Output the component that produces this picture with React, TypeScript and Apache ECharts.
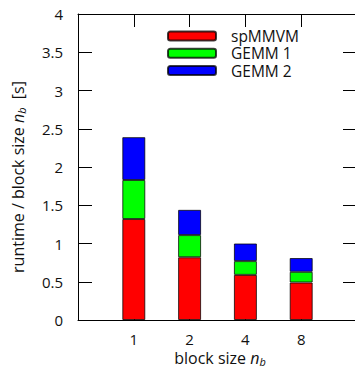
import React, { useEffect, useRef } from "react";
import * as echarts from "echarts";

const categories = ["1", "2", "4", "8"];
const spmmvm = [1.32, 0.82, 0.59, 0.49];
const gemm1 = [0.51, 0.29, 0.18, 0.14];
const gemm2 = [0.56, 0.33, 0.23, 0.18];
const seriesNames = ["spMMVM", "GEMM 1", "GEMM 2"];
const seriesColors = ["#ff0000", "#00ff00", "#0000ff"];
const seriesValues = [spmmvm, gemm1, gemm2];

// x range runs one slot past each end (gnuplot-style xrange [0:5])
const axisSlots = ["", ...categories, ""];

const FONT = "'Open Sans', sans-serif";
const CHART_W = 372;
const CHART_H = 370;

export default function App() {
  const ref = useRef<HTMLDivElement>(null);
  useEffect(() => {
    if (!ref.current) return;
    const chart = echarts.init(ref.current, undefined, { renderer: "svg" });
    const axisLine = { show: true, onZero: false, lineStyle: { color: "#000", width: 1 } };
    const tick = (len: number) => ({ show: true, inside: true, length: len, lineStyle: { color: "#000" } });
    const sub = { fontFamily: FONT, fontSize: 11, fontStyle: "italic", fill: "#111", padding: [7, 0, 0, 0] };
    chart.setOption({
      animation: false,
      textStyle: { fontFamily: FONT },
      grid: { left: 78, top: 14, right: CHART_W - 357, bottom: CHART_H - 320, containLabel: false },
      legend: {
        orient: "vertical",
        left: 167,
        top: 27.3,
        padding: 0,
        itemWidth: 48,
        itemHeight: 9,
        itemGap: 0,
        data: seriesNames,
        textStyle: { fontFamily: FONT, fontSize: 15.5, color: "#111", lineHeight: 17.3, padding: [0, 0, 0, 10] },
      },
      xAxis: [
        {
          type: "category",
          position: "bottom",
          data: axisSlots,
          boundaryGap: false,
          axisLine,
          axisTick: tick(13),
          axisLabel: { show: true, margin: 11, fontSize: 15, color: "#111", fontFamily: FONT, interval: 0 },
          splitLine: { show: false },
        },
        {
          type: "category",
          position: "top",
          data: axisSlots,
          boundaryGap: false,
          axisLine,
          axisTick: tick(13),
          axisLabel: { show: false },
          splitLine: { show: false },
        },
      ],
      yAxis: [
        {
          type: "value",
          position: "left",
          min: 0,
          max: 4,
          interval: 0.5,
          axisLine,
          axisTick: tick(14),
          axisLabel: { show: true, margin: 15, fontSize: 15, color: "#111", fontFamily: FONT },
          splitLine: { show: false },
        },
        {
          type: "value",
          position: "right",
          min: 0,
          max: 4,
          interval: 0.5,
          axisLine,
          axisTick: tick(14),
          axisLabel: { show: false },
          splitLine: { show: false },
        },
      ],
      series: seriesNames.map((name, k) => ({
        type: "bar",
        name,
        stack: "total",
        barWidth: 23,
        xAxisIndex: 0,
        yAxisIndex: 0,
        data: ["-", ...seriesValues[k], "-"],
        itemStyle: { color: seriesColors[k], borderColor: "rgba(0,0,0,0.75)", borderWidth: 1 },
      })),
      graphic: [
        {
          type: "text",
          x: 220,
          y: 358,
          style: {
            text: "{a|block size }{i|n}{s|b}",
            align: "center",
            verticalAlign: "middle",
            rich: {
              a: { fontFamily: FONT, fontSize: 16, fill: "#111" },
              i: { fontFamily: FONT, fontSize: 16, fontStyle: "italic", fill: "#111" },
              s: sub,
            },
          },
        },
        {
          type: "text",
          x: 18,
          y: 177,
          rotation: Math.PI / 2,
          style: {
            text: "{a|runtime / block size }{i|n}{s|b}{a|  [s]}",
            align: "center",
            verticalAlign: "middle",
            rich: {
              a: { fontFamily: FONT, fontSize: 16, fill: "#111" },
              i: { fontFamily: FONT, fontSize: 16, fontStyle: "italic", fill: "#111" },
              s: sub,
            },
          },
        },
      ],
    });
    return () => chart.dispose();
  }, []);
  return (
    <div style={{ position: "fixed", left: 0, top: 0, width: 355, height: 370, overflow: "hidden", background: "#fff" }}>
      <div ref={ref} style={{ width: CHART_W, height: CHART_H }} />
    </div>
  );
}
